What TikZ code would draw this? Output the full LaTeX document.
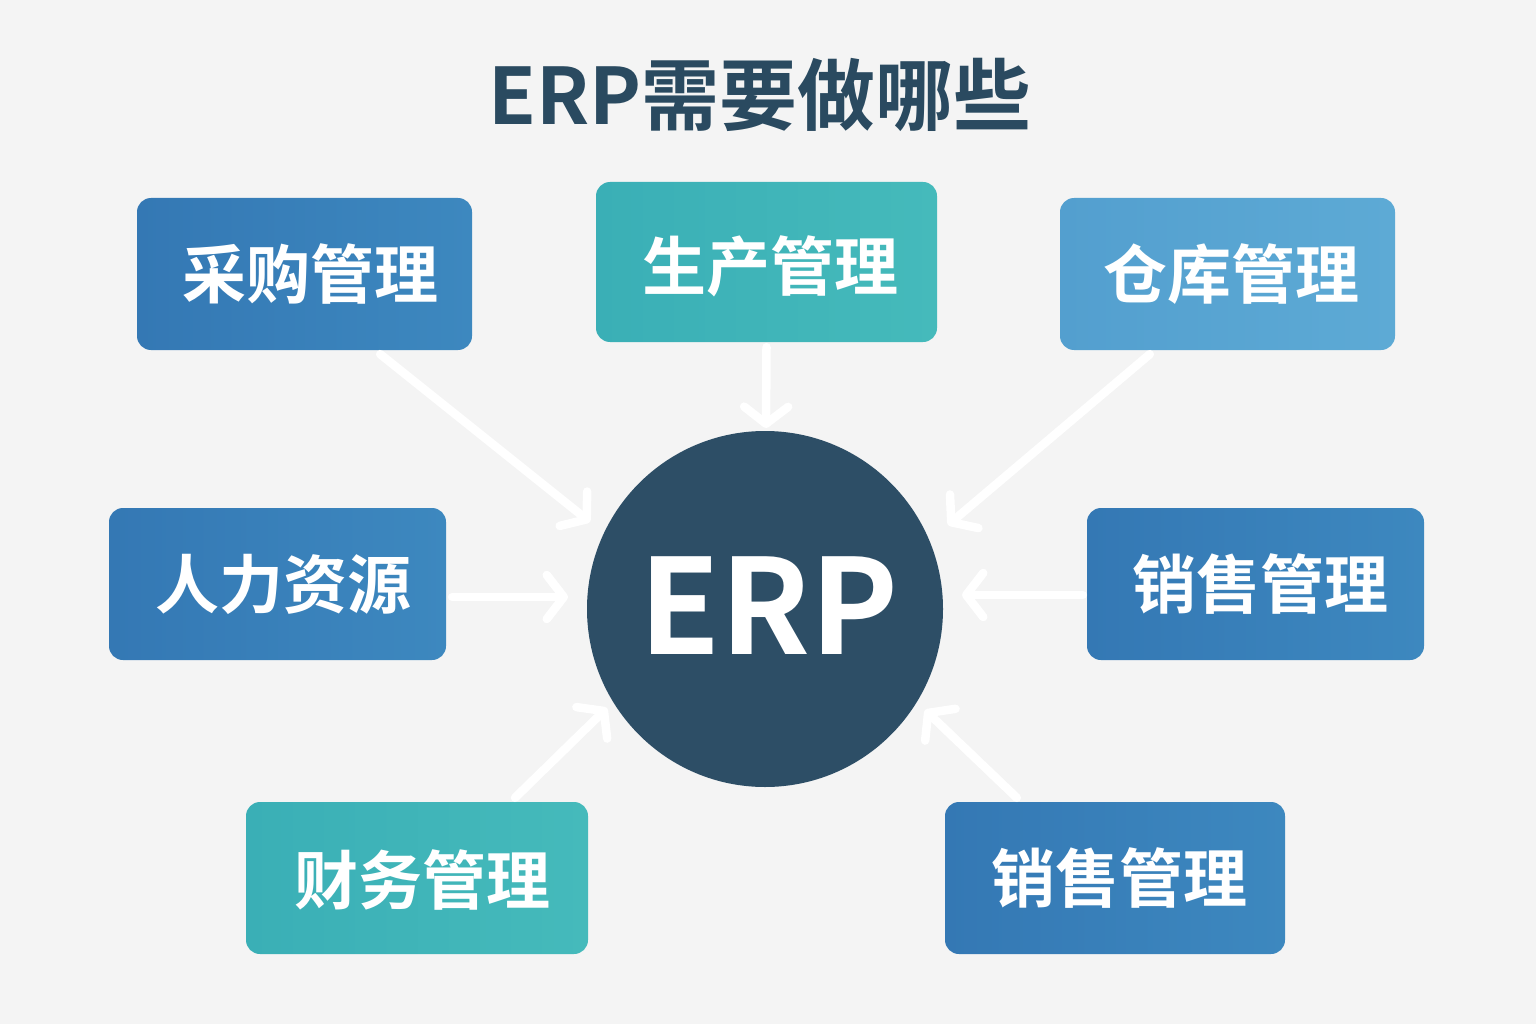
\documentclass[tikz,border=0pt]{standalone}
\usepackage{fontspec}
\setmainfont{Noto Sans CJK SC Bold}
\newfontfamily\cjkb{Noto Sans CJK SC Bold}
\usetikzlibrary{arrows.meta,shadows}
\definecolor{bgc}{HTML}{F4F4F4}
\definecolor{bluea}{HTML}{3478B4}
\definecolor{blueb}{HTML}{3D88BF}
\definecolor{teala}{HTML}{3AAFB6}
\definecolor{tealb}{HTML}{45BABB}
\definecolor{lbluea}{HTML}{539FCF}
\definecolor{lblueb}{HTML}{5DAAD5}
\definecolor{circc}{HTML}{2D4E66}
\definecolor{titlec}{HTML}{2A4A60}
\tikzset{
  box/.style={rounded corners=14pt, inner sep=0pt, text=white,
    font=\cjkb\fontsize{64}{72}\selectfont},
  bluebox/.style={box, left color=bluea, right color=blueb},
  tealbox/.style={box, left color=teala, right color=tealb},
  lbluebox/.style={box, left color=lbluea, right color=lblueb},
  arr/.style={draw=white, line width=8.5pt, line cap=round,
    -{Straight Barb[length=17pt,width=44pt,line width=8.5pt,round]}},
  lbl/.style={text=white, font=\cjkb\fontsize{64}{72}\selectfont},
}
\begin{document}
\begin{tikzpicture}[x=1pt,y=-1pt]
\useasboundingbox (0,0) rectangle (1536,1024);
\fill[bgc] (0,0) rectangle (1536,1024);
\node[text=titlec, font=\cjkb\fontsize{78}{90}\selectfont] (title) at (760,95) {ERP需要做哪些};
\node[circle, fill=circc, minimum size=356pt, inner sep=0pt] (erp) at (765,609) {};
\node[text=white, font=\cjkb\fontsize{132}{150}\selectfont] (erpt) at (769,606) {ERP};
\node[bluebox, minimum width=335pt, minimum height=152pt] (cg) at (304.5,274) {};
\node[lbl] at (310,274) {采购管理};
\node[tealbox, minimum width=341pt, minimum height=160pt] (sc) at (766.5,262) {};
\node[lbl] at (770,266) {生产管理};
\node[lbluebox, minimum width=335pt, minimum height=152pt] (ck) at (1227.5,274) {};
\node[lbl] at (1231,274) {仓库管理};
\node[bluebox, minimum width=337pt, minimum height=152pt] (rl) at (277.5,584) {};
\node[lbl] at (283,584) {人力资源};
\node[bluebox, minimum width=337pt, minimum height=152pt] (xs1) at (1255.5,584) {};
\node[lbl] at (1260,584) {销售管理};
\node[tealbox, minimum width=342pt, minimum height=152pt] (cw) at (417,878) {};
\node[lbl] at (422,880) {财务管理};
\node[bluebox, minimum width=340pt, minimum height=152pt] (xs2) at (1115,878) {};
\node[lbl] at (1119,878) {销售管理};
\coordinate (a1) at (590,522);
\coordinate (a2) at (766,428);
\coordinate (a3) at (948,525);
\coordinate (a4) at (568,597);
\coordinate (a5) at (962,595);
\coordinate (a6) at (607,708);
\coordinate (a7) at (925,710);
\draw[arr] (cg.south east) ++(-92,4) -- (a1);
\draw[arr] (sc.south) ++(0,5) -- (a2);
\draw[arr] (ck.south west) ++(90,4) -- (a3);
\draw[arr] (rl.east) ++(6,13) -- (a4);
\draw[arr] (xs1.west) ++(-4,11) -- (a5);
\draw[arr] (cw.north) ++(98,-4) -- (a6);
\draw[arr] (xs2.north west) ++(72,-4) -- (a7);
\end{tikzpicture}
\end{document}
